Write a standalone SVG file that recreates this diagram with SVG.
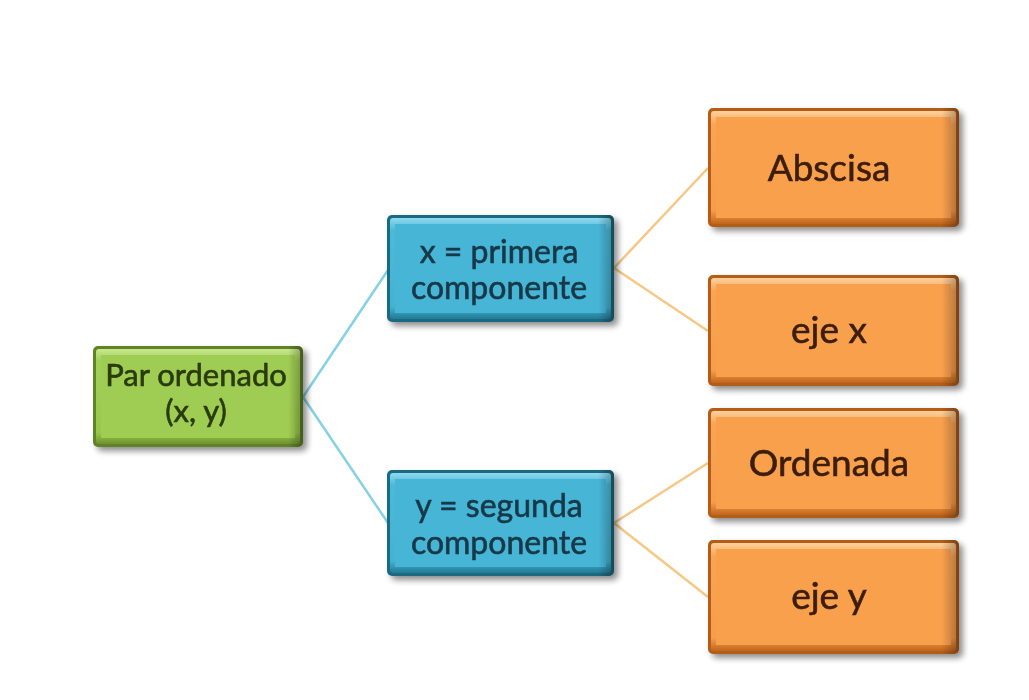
<svg xmlns="http://www.w3.org/2000/svg" width="1029" height="700" viewBox="0 0 1029 700">
  <defs>
    <filter id="shadow" x="-10%" y="-10%" width="130%" height="140%">
      <feGaussianBlur in="SourceAlpha" stdDeviation="3"/>
      <feOffset dx="4" dy="4" result="b"/>
      <feComponentTransfer><feFuncA type="linear" slope="0.45"/></feComponentTransfer>
      <feMerge><feMergeNode/><feMergeNode in="SourceGraphic"/></feMerge>
    </filter>
    <linearGradient id="gGreen" x1="0" y1="0" x2="0" y2="1">
      <stop offset="0" stop-color="#c9e88f"/>
      <stop offset="0.12" stop-color="#a3d05a"/>
      <stop offset="0.88" stop-color="#98c74c"/>
      <stop offset="1" stop-color="#6f9330"/>
    </linearGradient>
    <linearGradient id="gBlue" x1="0" y1="0" x2="0" y2="1">
      <stop offset="0" stop-color="#8fd9ee"/>
      <stop offset="0.12" stop-color="#4cbad9"/>
      <stop offset="0.88" stop-color="#43b2d2"/>
      <stop offset="1" stop-color="#237a94"/>
    </linearGradient>
    <linearGradient id="gOrange" x1="0" y1="0" x2="0" y2="1">
      <stop offset="0" stop-color="#fdd19e"/>
      <stop offset="0.12" stop-color="#f9a556"/>
      <stop offset="0.88" stop-color="#f79c4a"/>
      <stop offset="1" stop-color="#c0661d"/>
    </linearGradient>
    <!-- darker right side of each bevel -->
    <linearGradient id="gSide" x1="0" y1="0" x2="1" y2="0">
      <stop offset="0" stop-color="#000" stop-opacity="0"/>
      <stop offset="0.93" stop-color="#000" stop-opacity="0"/>
      <stop offset="1" stop-color="#000" stop-opacity="0.3"/>
    </linearGradient>
    <style>
      .lbl { font-family: Lato, "Open Sans", "Liberation Sans", sans-serif; text-anchor: middle; stroke-width: 0.6; }
      .green .lbl { font-size: 31px; }
      .blue .lbl { font-size: 32px; }
      .orange .lbl { font-size: 37px; }
      .side { fill: url(#gSide); }
      .green .edge { fill: #5f8325; }
      .green .face { fill: url(#gGreen); }
      .green .inner { fill: #9fcd52; }
      .green text { fill: #2b3a0e; stroke: #2b3a0e; }
      .blue .edge { fill: #1d6a82; }
      .blue .face { fill: url(#gBlue); }
      .blue .inner { fill: #47b6d6; }
      .blue text { fill: #173848; stroke: #173848; }
      .orange .edge { fill: #b45d18; }
      .orange .face { fill: url(#gOrange); }
      .orange .inner { fill: #f9a04e; }
      .orange text { fill: #3b1e0c; stroke: #3b1e0c; }
      .conn-blue { stroke: #86d2e3; stroke-width: 2.5; fill: none; }
      .conn-orange { stroke: #f6c886; stroke-width: 2.5; fill: none; }
    </style>
  </defs>

  <rect width="1029" height="700" fill="#ffffff"/>

  <!-- connectors -->
  <g id="connectors">
    <path class="conn-blue" d="M303 397 L388 270"/>
    <path class="conn-blue" d="M303 397 L388 523"/>
    <path class="conn-orange" d="M614 268 L708 168"/>
    <path class="conn-orange" d="M614 268 L708 331"/>
    <path class="conn-orange" d="M614 523 L708 463"/>
    <path class="conn-orange" d="M614 523 L708 597"/>
  </g>

  <!-- root node -->
  <g id="node-par" class="green" filter="url(#shadow)">
    <rect class="edge" x="93" y="346" width="210" height="101" rx="5"/>
    <rect class="face" x="96" y="349" width="204" height="95" rx="3"/>
    <rect class="inner" x="101" y="355" width="194" height="83"/>
    <rect class="side" x="93" y="346" width="210" height="101" rx="5"/>
    <text class="lbl" x="196" y="386">Par ordenado</text>
    <text class="lbl" x="196" y="422">(x, y)</text>
  </g>

  <g id="node-x" class="blue" filter="url(#shadow)">
    <rect class="edge" x="387" y="215" width="227" height="107" rx="5"/>
    <rect class="face" x="390" y="218" width="221" height="101" rx="3"/>
    <rect class="inner" x="395" y="224" width="211" height="89"/>
    <rect class="side" x="387" y="215" width="227" height="107" rx="5"/>
    <text class="lbl" x="499" y="263">x = primera</text>
    <text class="lbl" x="499" y="299">componente</text>
  </g>

  <g id="node-y" class="blue" filter="url(#shadow)">
    <rect class="edge" x="387" y="470" width="227" height="106" rx="5"/>
    <rect class="face" x="390" y="473" width="221" height="100" rx="3"/>
    <rect class="inner" x="395" y="479" width="211" height="88"/>
    <rect class="side" x="387" y="470" width="227" height="106" rx="5"/>
    <text class="lbl" x="499" y="517">y = segunda</text>
    <text class="lbl" x="499" y="554">componente</text>
  </g>

  <g id="node-abscisa" class="orange" filter="url(#shadow)">
    <rect class="edge" x="708" y="108" width="251" height="119" rx="5"/>
    <rect class="face" x="711" y="111" width="245" height="113" rx="3"/>
    <rect class="inner" x="716" y="117" width="235" height="101"/>
    <rect class="side" x="708" y="108" width="251" height="119" rx="5"/>
    <text class="lbl" x="829" y="181">Abscisa</text>
  </g>

  <g id="node-ejex" class="orange" filter="url(#shadow)">
    <rect class="edge" x="708" y="275" width="251" height="111" rx="5"/>
    <rect class="face" x="711" y="278" width="245" height="105" rx="3"/>
    <rect class="inner" x="716" y="284" width="235" height="93"/>
    <rect class="side" x="708" y="275" width="251" height="111" rx="5"/>
    <text class="lbl" x="829" y="343">eje x</text>
  </g>

  <g id="node-ordenada" class="orange" filter="url(#shadow)">
    <rect class="edge" x="708" y="408" width="251" height="110" rx="5"/>
    <rect class="face" x="711" y="411" width="245" height="104" rx="3"/>
    <rect class="inner" x="716" y="417" width="235" height="92"/>
    <rect class="side" x="708" y="408" width="251" height="110" rx="5"/>
    <text class="lbl" x="829" y="476">Ordenada</text>
  </g>

  <g id="node-ejey" class="orange" filter="url(#shadow)">
    <rect class="edge" x="708" y="540" width="251" height="114" rx="5"/>
    <rect class="face" x="711" y="543" width="245" height="108" rx="3"/>
    <rect class="inner" x="716" y="549" width="235" height="96"/>
    <rect class="side" x="708" y="540" width="251" height="114" rx="5"/>
    <text class="lbl" x="829" y="609">eje y</text>
  </g>
</svg>
